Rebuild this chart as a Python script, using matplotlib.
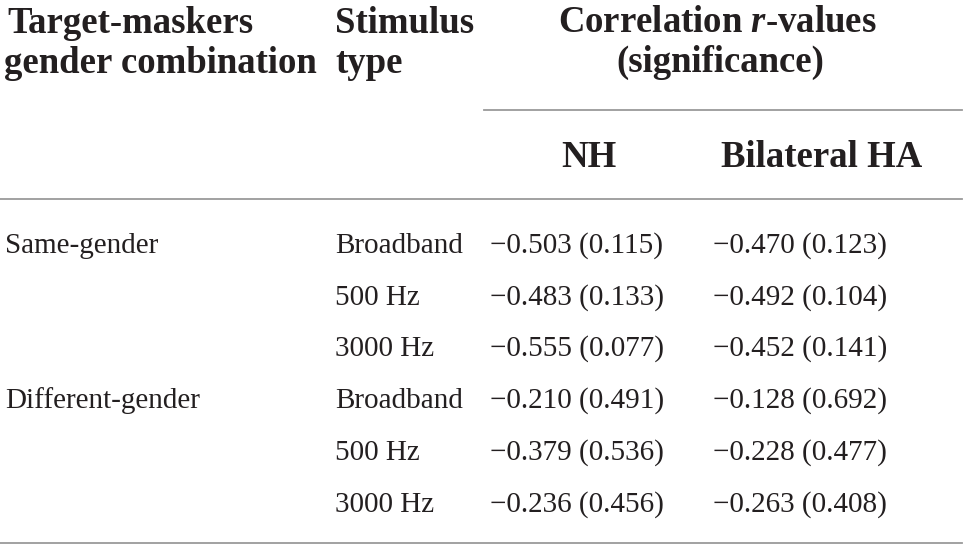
import matplotlib.pyplot as plt

plt.rcParams['font.family'] = ['Liberation Serif', 'DejaVu Serif']
plt.rcParams['mathtext.fontset'] = 'custom'
plt.rcParams['mathtext.it'] = 'Liberation Serif:italic:bold'

# table content
groups = ['Same-gender', '', '', 'Different-gender', '', '']
stimuli = ['Broadband', '500 Hz', '3000 Hz', 'Broadband', '500 Hz', '3000 Hz']
nh_r = [-0.503, -0.483, -0.555, -0.210, -0.379, -0.236]
nh_p = [0.115, 0.133, 0.077, 0.491, 0.536, 0.456]
ha_r = [-0.470, -0.492, -0.452, -0.128, -0.228, -0.263]
ha_p = [0.123, 0.104, 0.141, 0.692, 0.477, 0.408]

W, H = 968, 549
fig = plt.figure(figsize=(W / 100, H / 100), dpi=100)
ax = fig.add_axes([0, 0, 1, 1])
ax.set_xlim(0, W)
ax.set_ylim(H, 0)
ax.axis('off')

hdr = dict(fontsize=26.5, fontweight='bold', color='#231f20', va='baseline')
body = dict(fontsize=21, color='#231f20', va='baseline')

ax.text(7, 33, 'Target-maskers', ha='left', **hdr)
ax.text(4, 73, 'gender combination', ha='left', **hdr)
ax.text(335, 33, 'Stimulus', ha='left', **hdr)
ax.text(335, 73, 'type', ha='left', **hdr)
ax.text(717, 32, 'Correlation $r$-values', ha='center', **hdr)
ax.text(720, 72, '(significance)', ha='center', **hdr)
ax.text(589, 167, 'NH', ha='center', **hdr)
ax.text(822, 167, 'Bilateral HA', ha='center', **hdr)

line_col = '#9a9a9a'
ax.plot([484, 962], [110, 110], color=line_col, lw=1.3)
ax.plot([0, 962], [199, 199], color=line_col, lw=1.3)
ax.plot([0, 962], [543, 543], color=line_col, lw=1.3)

row_y = [253, 305, 356, 408, 460, 512]
for i, y in enumerate(row_y):
    ax.text(5, y, groups[i], ha='left', **body)
    ax.text(335, y, stimuli[i], ha='left', **body)
    ax.text(490, y, '\u2212%.3f (%.3f)' % (abs(nh_r[i]), nh_p[i]), ha='left', **body)
    ax.text(713, y, '\u2212%.3f (%.3f)' % (abs(ha_r[i]), ha_p[i]), ha='left', **body)

fig.savefig('out.png', dpi=100)
